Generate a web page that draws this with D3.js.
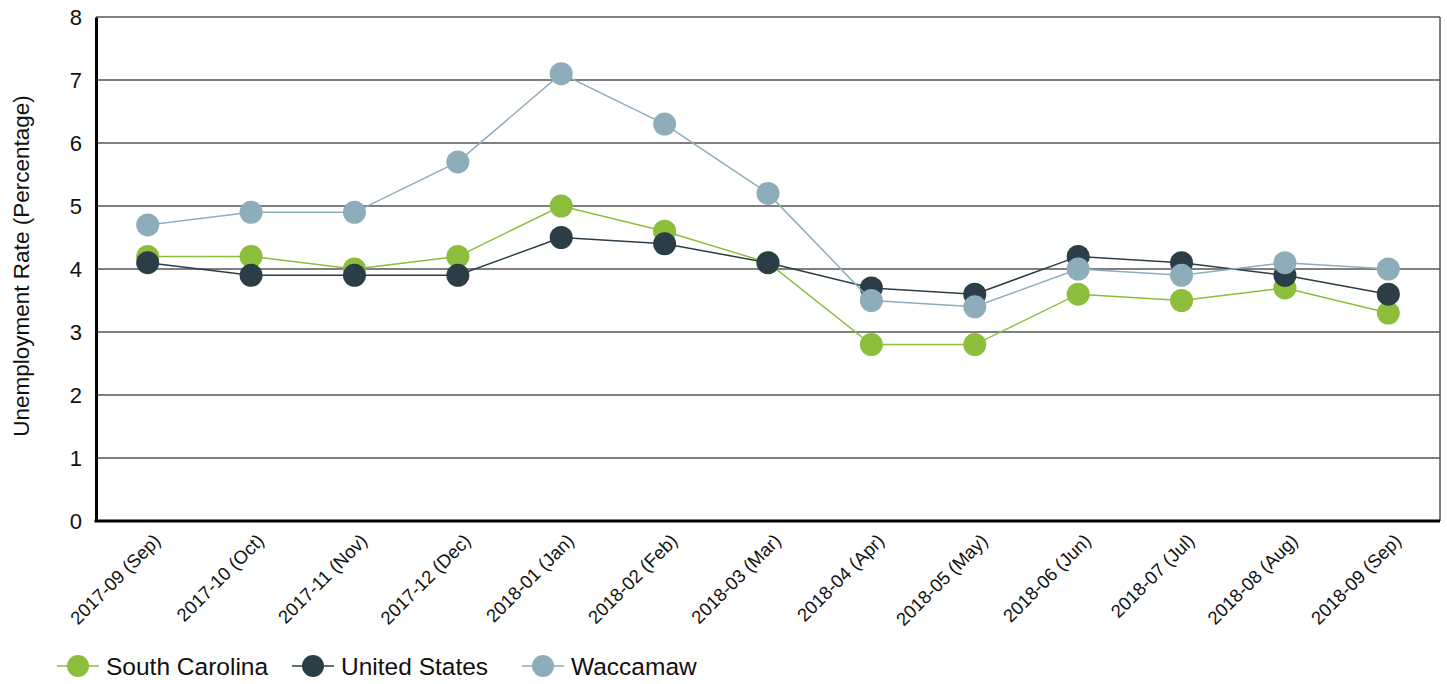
<!DOCTYPE html>
<html>
<head>
<meta charset="utf-8">
<script src="https://cdn.jsdelivr.net/npm/d3@7"></script>
<style>
  body { margin: 0; background: #fff; }
  svg text { font-family: "Liberation Sans", Arial, sans-serif; fill: #111; }
</style>
</head>
<body>
<svg id="chart" width="1447" height="684"></svg>
<script>
const categories = ["2017-09 (Sep)", "2017-10 (Oct)", "2017-11 (Nov)", "2017-12 (Dec)", "2018-01 (Jan)", "2018-02 (Feb)", "2018-03 (Mar)", "2018-04 (Apr)", "2018-05 (May)", "2018-06 (Jun)", "2018-07 (Jul)", "2018-08 (Aug)", "2018-09 (Sep)"];
const southCarolina = [4.2, 4.2, 4.0, 4.2, 5.0, 4.6, 4.1, 2.8, 2.8, 3.6, 3.5, 3.7, 3.3];
const unitedStates  = [4.1, 3.9, 3.9, 3.9, 4.5, 4.4, 4.1, 3.7, 3.6, 4.2, 4.1, 3.9, 3.6];
const waccamaw      = [4.7, 4.9, 4.9, 5.7, 7.1, 6.3, 5.2, 3.5, 3.4, 4.0, 3.9, 4.1, 4.0];
const yTicks = [0, 1, 2, 3, 4, 5, 6, 7, 8];
const seriesNames = ["South Carolina", "United States", "Waccamaw"];
const seriesColors = ["#8cbd3b", "#2b3e47", "#8eadba"];

(function () {
const series = [southCarolina, unitedStates, waccamaw].map((values, i) => ({
  name: seriesNames[i], color: seriesColors[i], values
}));

const svg = d3.select("#chart");
const pLeft = 96, pRight = 1440, pTop = 17, pBottom = 521;

const x = d3.scaleBand().domain(categories).range([pLeft, pRight]);
const y = d3.scaleLinear().domain([0, 8]).range([pBottom, pTop]);
const cx = d => x(d) + x.bandwidth() / 2;

// gridlines
svg.append("g").selectAll("line").data(yTicks.filter(t => t > 0)).join("line")
  .attr("x1", pLeft).attr("x2", pRight)
  .attr("y1", d => y(d)).attr("y2", d => y(d))
  .attr("stroke", "#000").attr("stroke-width", 1.2);

// right border
svg.append("line").attr("x1", pRight).attr("x2", pRight).attr("y1", pTop).attr("y2", pBottom)
  .attr("stroke", "#555").attr("stroke-width", 1.5);

// y axis
const yAxis = svg.append("g").attr("transform", `translate(${pLeft},0)`)
  .call(d3.axisLeft(y).tickValues(yTicks).tickSize(0).tickPadding(14));
yAxis.select(".domain").attr("stroke", "#000").attr("stroke-width", 3);
yAxis.selectAll("text").style("font-size", "22px").style("font-family", "Liberation Sans, Arial, sans-serif").attr("fill", "#111");

// x axis
const xAxis = svg.append("g").attr("transform", `translate(0,${pBottom})`)
  .call(d3.axisBottom(x).tickSize(0).tickPadding(0));
xAxis.select(".domain").attr("stroke", "#000").attr("stroke-width", 3)
  .attr("d", `M${pLeft - 1.5},0H${pRight}`);
xAxis.selectAll("text")
  .style("font-size", "18.5px").style("font-family", "Liberation Sans, Arial, sans-serif").attr("fill", "#111")
  .attr("text-anchor", "end")
  .attr("dy", "0")
  .attr("transform", "translate(14,21) rotate(-45)");

// y title
svg.append("text")
  .attr("transform", "translate(29,266) rotate(-90)")
  .attr("text-anchor", "middle")
  .style("font-size", "22.5px")
  .text("Unemployment Rate (Percentage)");

// series
const line = d3.line().x((d, i) => cx(categories[i])).y(d => y(d));
series.forEach(s => {
  const g = svg.append("g");
  g.append("path").datum(s.values).attr("d", line)
    .attr("fill", "none").attr("stroke", s.color).attr("stroke-width", 1.5);
  g.selectAll("circle").data(s.values).join("circle")
    .attr("cx", (d, i) => cx(categories[i])).attr("cy", d => y(d))
    .attr("r", 11.5).attr("fill", s.color);
});

// legend
const legendX = [57, 292, 522];
const legend = svg.append("g");
series.forEach((s, i) => {
  const g = legend.append("g").attr("transform", `translate(${legendX[i]},666)`);
  g.append("line").attr("x1", 0).attr("x2", 42).attr("y1", 0).attr("y2", 0)
    .attr("stroke", s.color).attr("stroke-width", 1.5);
  g.append("circle").attr("cx", 21).attr("cy", 0).attr("r", 11).attr("fill", s.color);
  g.append("text").attr("x", 49).attr("y", 0).attr("dy", "0.35em")
    .style("font-size", "24.5px").text(s.name);
});
})();
</script>
</body>
</html>
